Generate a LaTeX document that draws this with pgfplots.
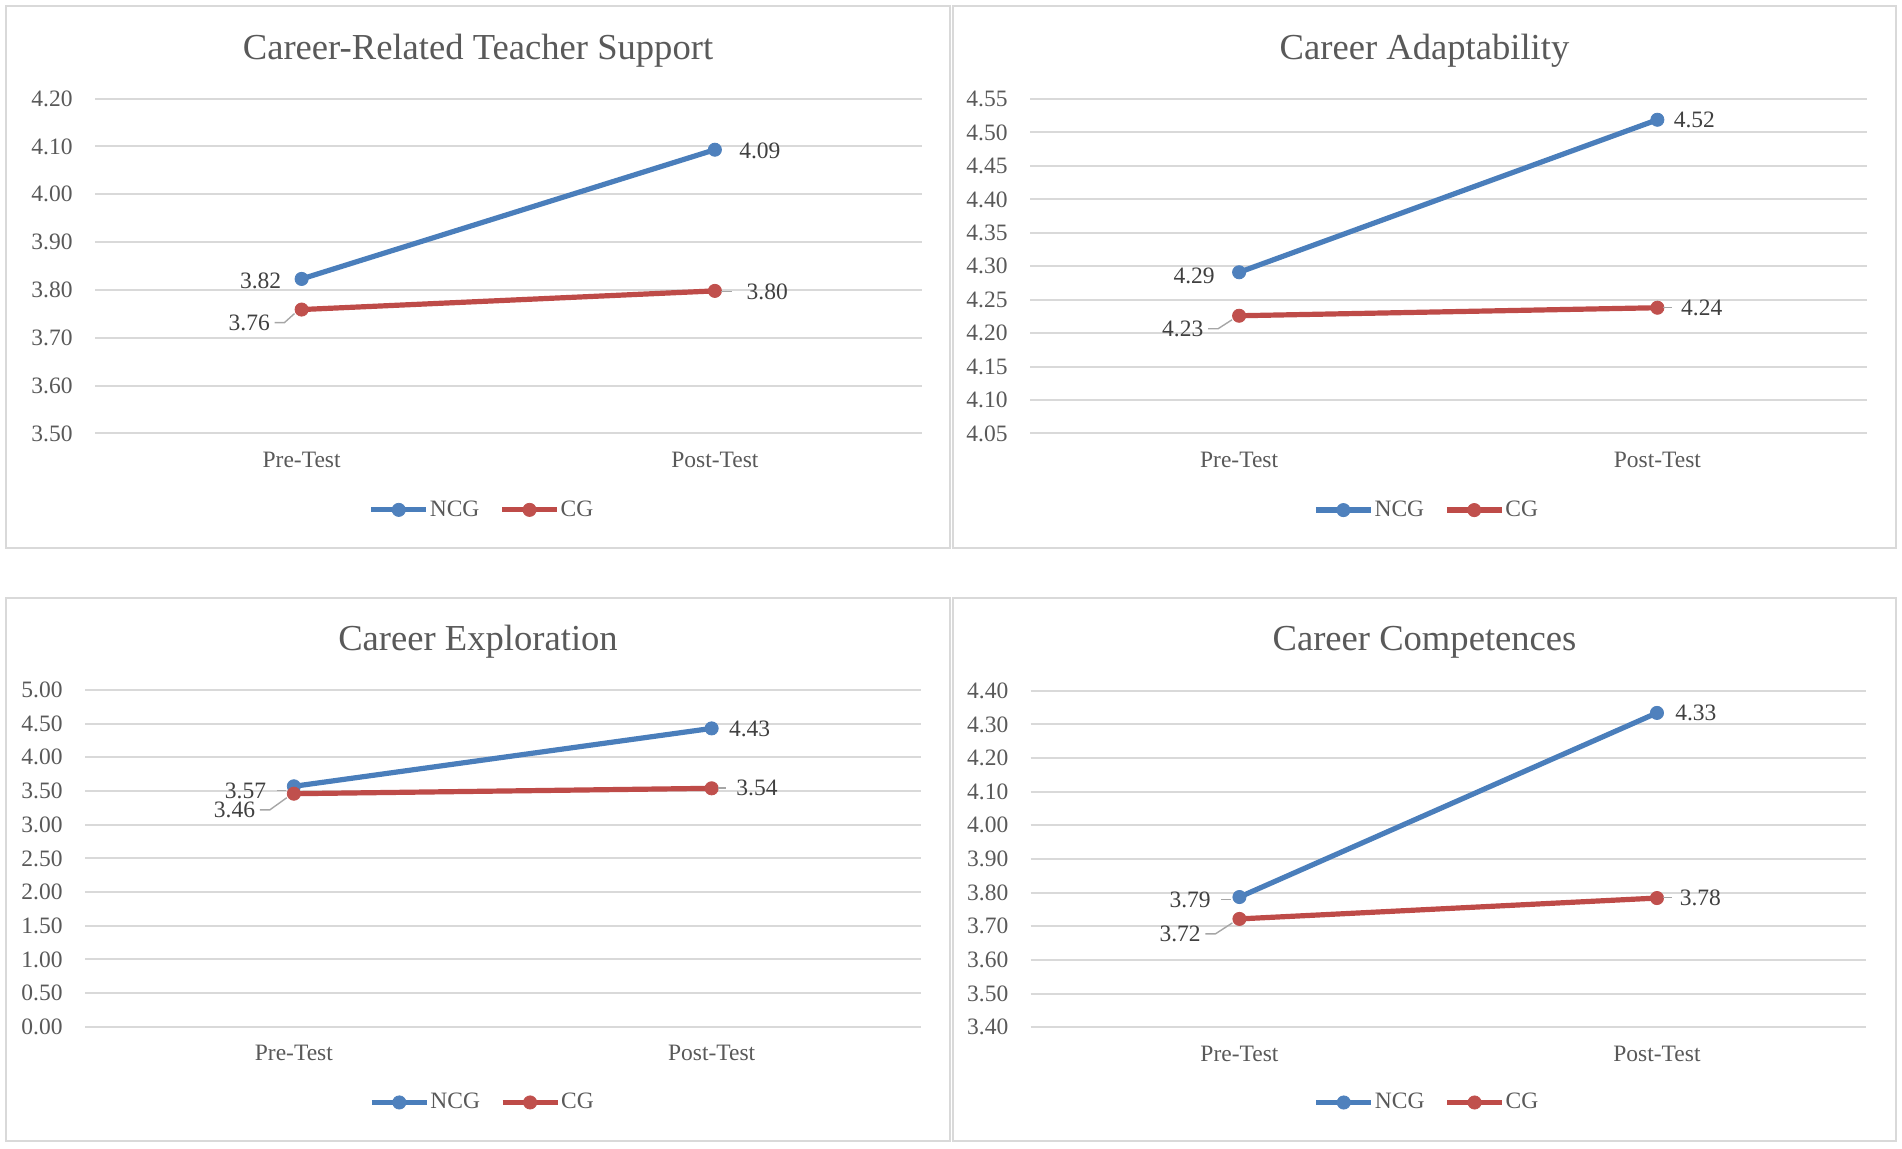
\documentclass[border=0pt]{standalone}
\usepackage{fontspec}
\setmainfont{Liberation Serif}
\usepackage{pgfplots}
\pgfplotsset{compat=1.18}
\definecolor{txt}{HTML}{595959}
\definecolor{labc}{HTML}{404040}
\definecolor{gridc}{HTML}{D9D9D9}
\definecolor{ncgl}{HTML}{4A7EBB}
\definecolor{ncgm}{HTML}{4F81BD}
\definecolor{cgl}{HTML}{BE4B48}
\definecolor{cgm}{HTML}{C0504D}
\definecolor{ldrc}{HTML}{A6A6A6}
\newcommand\fs{\fontsize{11.75}{14}\selectfont}
\newcommand\tfs{\fontsize{18.3}{22}\selectfont}
\newcommand\val{\pgfmathprintnumber[fixed,fixed zerofill,precision=2,assume math mode=true]{\pgfplotspointmeta}}
\tikzset{ldr/.style={draw=ldrc, line width=0.7pt}}
\newcommand\ldrD[2]{\tikz[baseline=0pt]\draw[ldr] (0pt,4pt) -- (5pt,4pt) -- ++(#1,#2);}
\newcommand\ldrH[1]{\tikz[baseline=0pt]\draw[ldr] (0pt,4pt) -- (#1,4pt);}
\newcommand\lab[6]{%
  \addplot[draw=none, mark=none, forget plot, point meta=y, nodes near coords={#6},
    every node near coord/.append style={font=\fs, text=labc, inner sep=0pt, anchor=#3, xshift=#4, yshift=#5}]
    coordinates {(#1,#2)};}
\pgfplotsset{
  panel/.style={
    scale only axis, anchor=south west,
    xmin=-0.5, xmax=1.5, xtick={0,1}, xticklabels={Pre-Test,Post-Test},
    axis line style={draw=none}, tick style={draw=none},
    ymajorgrids, major grid style={draw=gridc, line width=1pt},
    ticklabel style={font=\fs, text=txt},
    yticklabel style={anchor=east, inner sep=0pt, xshift=-11pt,
      /pgf/number format/.cd, fixed, fixed zerofill, precision=2, assume math mode=true},
    xticklabel style={anchor=base, inner sep=0pt, yshift=-17pt},
    clip=false,
    legend columns=2,
    legend style={draw=none, fill=none, font=\fs, text=txt, anchor=center, inner sep=0pt,
      nodes={inner sep=0pt},
      /tikz/every even column/.append style={column sep=10pt},
      /tikz/every odd column/.append style={column sep=0.5pt}},
    legend image code/.code={\draw[mark repeat=2, mark phase=2, ##1] plot coordinates {(0pt,0pt) (13.75pt,0pt) (27.5pt,0pt)};},
  },
  ncg/.style={color=ncgl, line width=2.6pt, mark=*, mark size=3.3pt, mark options={solid, fill=ncgm, draw=ncgm, line width=0.4pt}},
  cg/.style={color=cgl, line width=2.6pt, mark=*, mark size=3.3pt, mark options={solid, fill=cgm, draw=cgm, line width=0.4pt}},
}
\begin{document}
\begin{tikzpicture}
% panel frames
\draw[gridc, line width=0.75pt] (3pt,-3pt) rectangle (475pt,-274pt);
\draw[gridc, line width=0.75pt] (476.5pt,-3pt) rectangle (948pt,-274pt);
\draw[gridc, line width=0.75pt] (3pt,-299pt) rectangle (475pt,-570.5pt);
\draw[gridc, line width=0.75pt] (476.5pt,-299pt) rectangle (948pt,-570.5pt);
% titles
\node[font=\tfs, text=txt, anchor=base, inner sep=0pt] at (239pt,-29.9pt) {Career-Related Teacher Support};
\node[font=\tfs, text=txt, anchor=base, inner sep=0pt] at (712.25pt,-29.9pt) {Career Adaptability};
\node[font=\tfs, text=txt, anchor=base, inner sep=0pt] at (239pt,-325.5pt) {Career Exploration};
\node[font=\tfs, text=txt, anchor=base, inner sep=0pt] at (712.25pt,-325.5pt) {Career Competences};

% ---- Top left
\begin{axis}[panel, at={(47.5pt,-216.75pt)}, width=413.25pt, height=167.5pt,
  ymin=3.5, ymax=4.2, ytick={3.5,3.6,3.7,3.8,3.9,4.0,4.1,4.2},
  legend style={at={(axis description cs:0.467,-0.228)}}]
\addplot[ncg] coordinates {(0,3.823) (1,4.093)};
\addlegendentry{NCG}
\addplot[cg] coordinates {(0,3.759) (1,3.798)};
\addlegendentry{CG}
\lab{0}{3.823}{east}{-10pt}{-1pt}{\val}
\lab{1}{4.093}{west}{12pt}{-0.5pt}{\val}
\lab{0}{3.759}{base east}{-3pt}{-10.5pt}{\val\hspace{2pt}\ldrD{5pt}{4.5pt}}
\lab{1}{3.798}{west}{2.5pt}{-0.5pt}{\ldrH{5.5pt}\hspace{7pt}\val}
\end{axis}

% ---- Top right
\begin{axis}[panel, at={(515pt,-216.75pt)}, width=418.25pt, height=167.25pt,
  ymin=4.05, ymax=4.55, ytick={4.05,4.10,4.15,4.20,4.25,4.30,4.35,4.40,4.45,4.50,4.55},
  legend style={at={(axis description cs:0.473,-0.229)}}]
\addplot[ncg] coordinates {(0,4.291) (1,4.519)};
\addlegendentry{NCG}
\addplot[cg] coordinates {(0,4.226) (1,4.238)};
\addlegendentry{CG}
\lab{0}{4.291}{east}{-12pt}{-2pt}{\val}
\lab{1}{4.519}{west}{8pt}{0pt}{\val}
\lab{0}{4.226}{base east}{-3pt}{-10.5pt}{\val\hspace{2pt}\ldrD{7pt}{4.5pt}}
\lab{1}{4.238}{west}{2.5pt}{0pt}{\ldrH{4.5pt}\hspace{4pt}\val}
\end{axis}

% ---- Bottom left
\begin{axis}[panel, at={(42.5pt,-513.35pt)}, width=417.75pt, height=168.35pt,
  ymin=0, ymax=5, ytick={0,0.5,1,1.5,2,2.5,3,3.5,4,4.5,5},
  legend style={at={(axis description cs:0.4746,-0.225)}}]
\addplot[ncg] coordinates {(0,3.57) (1,4.43)};
\addlegendentry{NCG}
\addplot[cg] coordinates {(0,3.46) (1,3.54)};
\addlegendentry{CG}
\lab{0}{3.57}{east}{-3.5pt}{-2.2pt}{\val\hspace{5pt}\ldrH{4.5pt}}
\lab{1}{4.43}{west}{8.5pt}{0pt}{\val}
\lab{0}{3.46}{base east}{-3pt}{-12.1pt}{\val\hspace{2pt}\ldrD{8.5pt}{6.1pt}}
\lab{1}{3.54}{west}{2.5pt}{0pt}{\ldrH{4.2pt}\hspace{4.8pt}\val}
\end{axis}

% ---- Bottom right
\begin{axis}[panel, at={(515.35pt,-513.65pt)}, width=417.5pt, height=168.3pt,
  ymin=3.4, ymax=4.4, ytick={3.4,3.5,3.6,3.7,3.8,3.9,4.0,4.1,4.2,4.3,4.4},
  legend style={at={(axis description cs:0.4734,-0.2234)}}]
\addplot[ncg] coordinates {(0,3.787) (1,4.334)};
\addlegendentry{NCG}
\addplot[cg] coordinates {(0,3.722) (1,3.784)};
\addlegendentry{CG}
\lab{0}{3.787}{east}{-3.5pt}{-1.5pt}{\val\hspace{5pt}\ldrH{5pt}}
\lab{1}{4.334}{west}{9pt}{0pt}{\val}
\lab{0}{3.722}{base east}{-3pt}{-11.5pt}{\val\hspace{2pt}\ldrD{8.5pt}{5.5pt}}
\lab{1}{3.784}{west}{2.5pt}{0pt}{\ldrH{4.5pt}\hspace{3.5pt}\val}
\end{axis}

\pgfresetboundingbox
\path[use as bounding box] (0pt,0pt) rectangle (951pt,-574.5pt);
\end{tikzpicture}
\end{document}
